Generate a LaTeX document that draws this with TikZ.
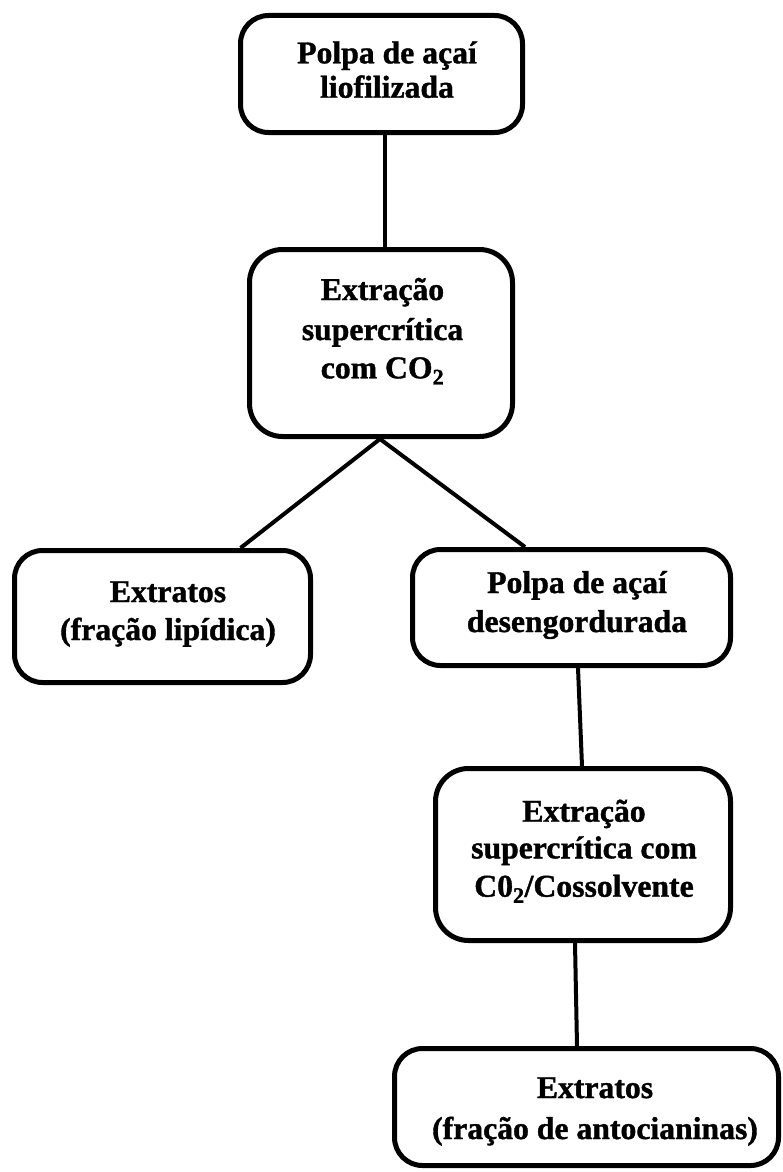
\documentclass[tikz,border=0pt]{standalone}
\usepackage{fontspec}
\setmainfont{Liberation Serif}[BoldFeatures={FakeBold=1.2}]
\begin{document}
\begin{tikzpicture}[x=1pt,y=-1pt,
  box/.style={draw=black, line width=5pt, rounded corners=28pt, fill=white, inner sep=0pt},
  conn/.style={draw=black, line width=4pt},
  txt/.style={anchor=base, inner sep=0pt, font=\fontsize{31.7}{36}\selectfont\bfseries}]
\useasboundingbox[fill=white] (0,0) rectangle (782,1172);
% boxes
\node[box, minimum width=282pt, minimum height=117pt] (b1) at (381.5,74) {};
\node[box, minimum width=263pt, minimum height=187pt, rounded corners=33pt] (b2) at (381,343) {};
\node[box, minimum width=296pt, minimum height=132pt] (b3) at (162.5,616.5) {};
\node[box, minimum width=318pt, minimum height=116pt] (b4) at (571.5,607.5) {};
\node[box, minimum width=295pt, minimum height=172pt, rounded corners=33pt] (b5) at (583,854.5) {};
\node[box, minimum width=384pt, minimum height=117pt] (b6) at (586.5,1107) {};
% texts
\node[txt] (t1a) at (387,63.3) {Polpa de açaí};
\node[txt] (t1b) at (387,97.7) {liofilizada};
\node[txt] (t2a) at (382.5,300) {Extração};
\node[txt] (t2b) at (382.5,340) {supercrítica};
\node[txt] (t2c) at (382.5,378.3) {com CO\textsubscript{2}};
\node[txt] (t3a) at (168,602) {Extratos};
\node[txt] (t3b) at (168,640) {(fração lipídica)};
\node[txt] (t4a) at (577,593) {Polpa de açaí};
\node[txt] (t4b) at (577,632) {desengordurada};
\node[txt] (t5a) at (584,821.7) {Extração};
\node[txt] (t5b) at (584,858.3) {supercrítica com};
\node[txt] (t5c) at (584,896.7) {C0\textsubscript{2}/Cossolvente};
\node[txt] (t6a) at (595,1098) {Extratos};
\node[txt] (t6b) at (595,1139) {(fração de antocianinas)};
% connectors
\draw[conn] ([xshift=3.5pt]b1.south) -- ([xshift=4pt]b2.north);
\draw[conn] ([xshift=-1pt]b2.south) -- ([xshift=78pt]b3.north);
\draw[conn] ([xshift=-1pt]b2.south) -- ([xshift=-46.5pt]b4.north);
\draw[conn] ([xshift=6.5pt]b4.south) -- ([xshift=-1pt]b5.north);
\draw[conn] ([xshift=-8pt]b5.south) -- ([xshift=-9.5pt]b6.north);
\end{tikzpicture}
\end{document}
